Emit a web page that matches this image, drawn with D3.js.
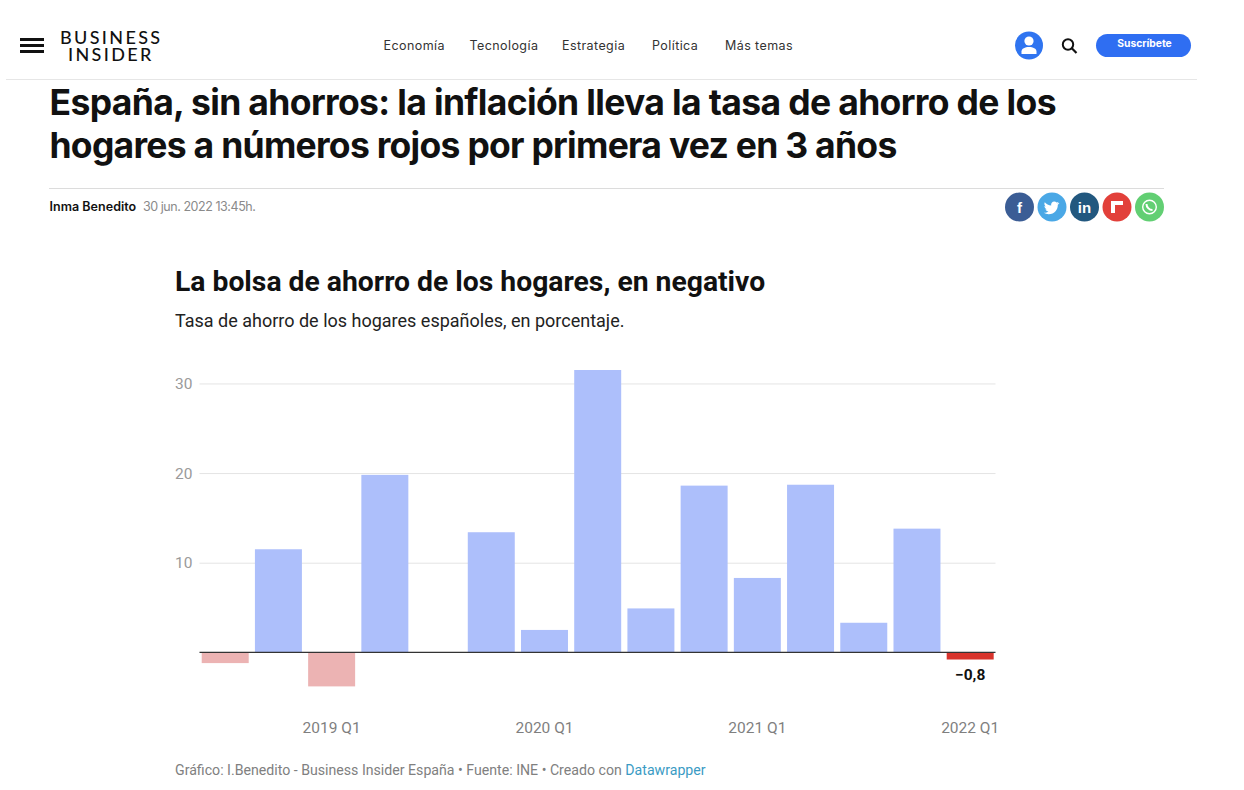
<!DOCTYPE html>
<html>
<head>
<meta charset="utf-8">
<script src="https://cdn.jsdelivr.net/npm/d3@7"></script>
<style>
  html, body { margin: 0; padding: 0; background: #fff; }
  svg { display: block; }
  .grid line { stroke: #e4e4e4; }
  .grid path, .xaxis path, .xaxis line { display: none; }
  .grid text { fill: #9a9a9a; font: 15.5px Roboto; }
  .xaxis text { fill: #7f7f7f; font: 15.5px Roboto; }
</style>
</head>
<body>
<div id="chart"></div>
<script>
const quarters = ["2018 Q3","2018 Q4","2019 Q1","2019 Q2","2019 Q3","2019 Q4","2020 Q1","2020 Q2","2020 Q3","2020 Q4","2021 Q1","2021 Q2","2021 Q3","2021 Q4","2022 Q1"];
const savings = [-1.2, 11.5, -3.8, 19.8, 0, 13.4, 2.5, 31.5, 4.9, 18.6, 8.3, 18.7, 3.3, 13.8, -0.8];
const yTicks = [10, 20, 30];
const xTicks = ["2019 Q1","2020 Q1","2021 Q1","2022 Q1"];
const navItems = ["Economía","Tecnología","Estrategia","Política","Más temas"];
const navX = [383.5,469.5,562,652,725];

const svg = d3.select("#chart").append("svg")
    .attr("width", 1244)
    .attr("height", 790);

function label(x, y, txt, size, weight, fill, family, spacing) {
    return svg.append("text")
        .attr("x", x).attr("y", y)
        .attr("font-size", size)
        .attr("font-weight", weight)
        .attr("fill", fill)
        .attr("font-family", family)
        .attr("letter-spacing", spacing || 0)
        .text(txt);
}

// page header
[39.5, 45.5, 51.5].forEach(y => {
    svg.append("rect").attr("x", 20).attr("y", y - 1.5).attr("width", 24).attr("height", 3).attr("fill", "#111");
});
label(60, 44, "BUSINESS", 18, 500, "#111", "Lato", 2.35);
label(68, 61, "INSIDER", 18, 500, "#111", "Lato", 2.35);
navItems.forEach((d, i) => label(navX[i], 50, d, 12.5, 400, "#333", "Inter", 0.42));

svg.append("line").attr("x1", 6).attr("x2", 1197).attr("y1", 79.5).attr("y2", 79.5).attr("stroke", "#e6e6e6");

// user icon
svg.append("circle").attr("cx", 1029).attr("cy", 45.5).attr("r", 14).attr("fill", "#2f74f0");
svg.append("circle").attr("cx", 1029).attr("cy", 41).attr("r", 4.6).attr("fill", "#fff");
svg.append("path").attr("d", "M1021.5 54 v-2.5 c0-3 3.5-4.5 7.5-4.5 s7.5 1.5 7.5 4.5 v2.5 z").attr("fill", "#fff");
// search icon
svg.append("circle").attr("cx", 1068).attr("cy", 44.5).attr("r", 5.2).attr("fill", "none").attr("stroke", "#111").attr("stroke-width", 2);
svg.append("line").attr("x1", 1071.8).attr("y1", 48.3).attr("x2", 1076.5).attr("y2", 53).attr("stroke", "#111").attr("stroke-width", 2.2);
// subscribe button
svg.append("rect").attr("x", 1096).attr("y", 34).attr("width", 95).attr("height", 23).attr("rx", 11.5).attr("fill", "#2f6ef2");
label(1144.5, 47, "Suscríbete", 10.3, 700, "#fff", "Inter").attr("text-anchor", "middle");

// headline
label(49.5, 115, "España, sin ahorros: la inflación lleva la tasa de ahorro de los", 35.5, 700, "#111", "Inter", -0.65);
label(49.5, 158, "hogares a números rojos por primera vez en 3 años", 35.5, 700, "#111", "Inter", -0.73);
svg.append("line").attr("x1", 49).attr("x2", 1164).attr("y1", 188.5).attr("y2", 188.5).attr("stroke", "#dcdcdc");
label(49.5, 211, "Inma Benedito", 12.5, 600, "#111", "Inter", 0.03);
label(143, 211, "30 jun. 2022 13:45h.", 12.5, 400, "#8a8a8a", "Inter", -0.45);

// share buttons
const shareX = [1019.5, 1052, 1084.5, 1117, 1149.5];
const shareColors = ["#3b5d95", "#4aa8e6", "#22587f", "#e2403a", "#62cf73"];
shareX.forEach((x, i) => {
    svg.append("circle").attr("cx", x).attr("cy", 207).attr("r", 14.5).attr("fill", shareColors[i]);
});
label(1019.5, 213, "f", 15, 700, "#fff", "Liberation Sans").attr("text-anchor", "middle");
svg.append("path")
    .attr("d", "M1059 203 c-.6.3-1.2.4-1.8.5 .7-.4 1.1-1 1.4-1.7 -.6.4-1.3.6-2 .8 -.6-.6-1.4-1-2.3-1 -2.1 0-3.6 1.9-3.1 3.9 -2.6-.1-4.9-1.4-6.4-3.3 -.8 1.4-.4 3.2 1 4.2 -.5 0-1-.2-1.4-.4 0 1.5 1 2.9 2.5 3.2 -.5.1-.9.2-1.4.1 .4 1.3 1.6 2.2 3 2.2 -1.3 1-3 1.5-4.7 1.3 1.4.9 3.1 1.4 4.9 1.4 5.9 0 9.3-5 9.1-9.5 .6-.5 1.2-1.1 1.6-1.7 z")
    .attr("fill", "#fff");
label(1084.5, 212.5, "in", 15, 700, "#fff", "Liberation Sans").attr("text-anchor", "middle");
svg.append("path").attr("d", "M1111 201 h12 v4 h-8 v4 h-4 z M1111 209 h4 v4 h-4 z").attr("fill", "#fff");
svg.append("circle").attr("cx", 1149.5).attr("cy", 207).attr("r", 6.8).attr("fill", "none").attr("stroke", "#fff").attr("stroke-width", 1.4);
svg.append("path").attr("d", "M1146.5 204 c0 3 2.5 6 6 6").attr("fill", "none").attr("stroke", "#fff").attr("stroke-width", 2);

// chart titles
label(175, 291, "La bolsa de ahorro de los hogares, en negativo", 28.3, 700, "#111", "Roboto");
label(175, 327, "Tasa de ahorro de los hogares españoles, en porcentaje.", 18, 400, "#222", "Roboto");

// scales
const x = d3.scaleBand()
    .domain(quarters)
    .range([198.6, 996.8])
    .paddingInner(0.117)
    .paddingOuter(0.0585);

const y = d3.scaleLinear()
    .domain([-3.8, 31.5])
    .range([686.4, 370]);

// y gridlines, labels left of the plot
svg.append("g")
    .attr("class", "grid")
    .attr("transform", "translate(995.5,0)")
    .call(d3.axisLeft(y).tickValues(yTicks).tickSize(796).tickPadding(7));

// bars
svg.append("g")
    .selectAll("rect")
    .data(savings)
    .join("rect")
    .attr("x", (d, i) => x(quarters[i]))
    .attr("width", x.bandwidth())
    .attr("y", d => y(Math.max(d, 0)))
    .attr("height", d => Math.abs(y(d) - y(0)))
    .attr("fill", (d, i) => {
        if (d >= 0) return "#adbffb";
        return i === savings.length - 1 ? "#d8342c" : "#ecb3b3";
    });

// zero line
svg.append("line")
    .attr("x1", 199.5).attr("x2", 995.5)
    .attr("y1", y(0)).attr("y2", y(0))
    .attr("stroke", "#333").attr("stroke-width", 1.2);

// x labels
svg.append("g")
    .attr("class", "xaxis")
    .attr("transform", "translate(0,718)")
    .call(d3.axisBottom(x).tickValues(xTicks).tickSize(0).tickPadding(4));

// value label for the last bar
const last = quarters.length - 1;
label(x(quarters[last]) + x.bandwidth() / 2, 680, "−0,8", 15.5, 700, "#111", "Roboto").attr("text-anchor", "middle");

// footer
const foot = label(175, 775, "Gráfico: I.Benedito - Business Insider España • Fuente: INE • Creado con ", 14.15, 400, "#808080", "Roboto");
foot.append("tspan").attr("fill", "#3a9bc4").text("Datawrapper");
</script>
</body>
</html>
